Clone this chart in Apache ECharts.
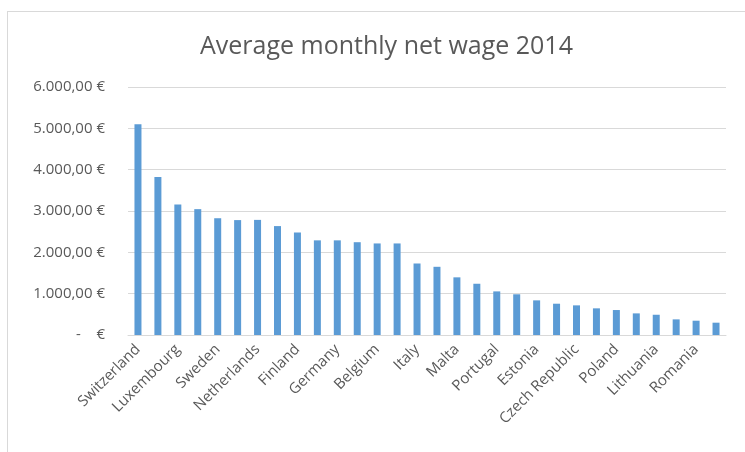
<!DOCTYPE html>
<html>
<head>
<meta charset="utf-8">
<script src="https://cdn.jsdelivr.net/npm/echarts@6/dist/echarts.min.js"></script>
<style>
  html, body { margin: 0; padding: 0; background: #ffffff; overflow: hidden; }
  #frame { position: absolute; left: 7px; top: 11px; width: 820px; height: 520px; border: 1px solid #d9d9d9; }
  #chart { position: absolute; left: 0; top: 0; width: 745px; height: 452px; }
</style>
</head>
<body>
<div id="frame"></div>
<div id="chart"></div>
<script>
// Countries, ranked by average monthly net wage (EUR), 2014
const countries = [
  'Switzerland', 'Norway', 'Luxembourg', 'Denmark', 'Sweden', 'Ireland',
  'Netherlands', 'United Kingdom', 'Finland', 'Austria', 'Germany', 'France',
  'Belgium', 'Iceland', 'Italy', 'Spain', 'Malta', 'Cyprus', 'Portugal',
  'Slovenia', 'Estonia', 'Croatia', 'Czech Republic', 'Slovakia', 'Poland',
  'Latvia', 'Lithuania', 'Hungary', 'Romania', 'Bulgaria'
];
const netWage = [
  5100, 3820, 3155, 3045, 2825, 2780,
  2785, 2635, 2480, 2290, 2290, 2245,
  2215, 2215, 1730, 1650, 1395, 1240, 1055,
  985, 838, 757, 717, 645, 604,
  523, 490, 378, 346, 298
];
const yTicks = { min: 0, max: 6000, step: 1000 };
const chartTitle = 'Average monthly net wage 2014';

function euro(v) {
  if (v === 0) return '-    €';
  const whole = Math.floor(v).toString().replace(/\B(?=(\d{3})+(?!\d))/g, '.');
  return whole + ',00 €';
}

const chart = echarts.init(document.getElementById('chart'), null, { renderer: 'canvas' });
chart.setOption({
  animation: false,
  backgroundColor: 'transparent',
  textStyle: { fontFamily: 'Open Sans' },
  title: {
    text: chartTitle,
    left: 195,
    top: 29,
    textStyle: { fontFamily: 'Open Sans', fontSize: 25, fontWeight: 'normal', color: '#595959' }
  },
  grid: { left: 128, right: 19, top: 87, bottom: 117, containLabel: false },
  xAxis: {
    type: 'category',
    data: countries,
    axisLine: { lineStyle: { color: '#d9d9d9' } },
    axisTick: { show: false },
    axisLabel: {
      interval: 1,
      rotate: 45,
      margin: 12,
      color: '#595959',
      fontSize: 15,
      fontFamily: 'Open Sans'
    }
  },
  yAxis: {
    type: 'value',
    min: yTicks.min,
    max: yTicks.max,
    interval: yTicks.step,
    axisLine: { show: false },
    axisTick: { show: false },
    splitLine: { lineStyle: { color: '#d9d9d9' } },
    axisLabel: {
      margin: 23,
      color: '#595959',
      fontSize: 15,
      fontFamily: 'Open Sans',
      formatter: euro
    }
  },
  series: [{
    type: 'bar',
    data: netWage,
    barWidth: 7,
    itemStyle: { color: '#5b9bd5' }
  }]
});
</script>
</body>
</html>
